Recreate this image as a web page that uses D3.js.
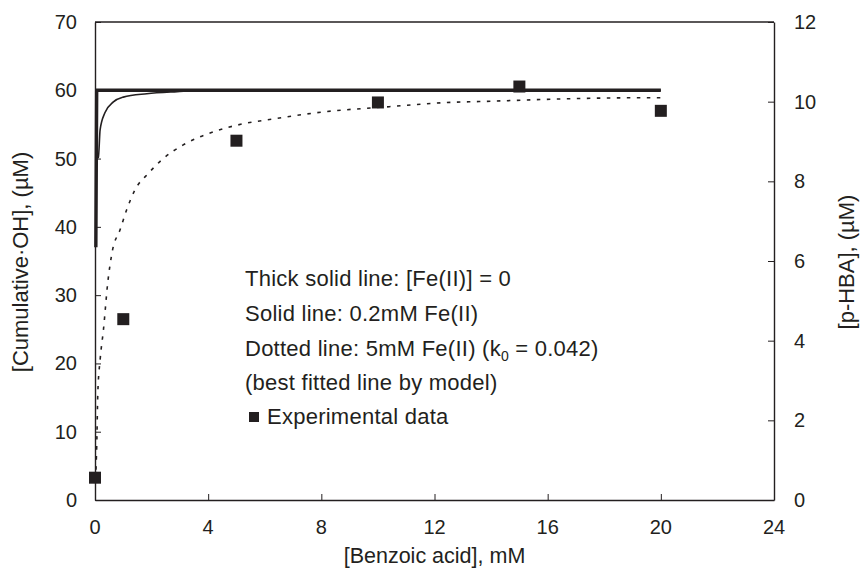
<!DOCTYPE html>
<html>
<head>
<meta charset="utf-8">
<script src="https://cdn.jsdelivr.net/npm/d3@7"></script>
<style>
  html, body { margin: 0; padding: 0; background: #fff; }
  svg { display: block; }
  text { font-family: "Liberation Sans", Arial, sans-serif; fill: #231f20; }
</style>
</head>
<body>
<svg id="chart" width="864" height="577"></svg>
<script>
// Benzoic acid concentration (mM) and modelled cumulative ·OH (µM)
const thickX = [0.03, 0.06, 20];
const thickY = [37, 60, 60];

const thinX = [0.05, 0.12, 0.18, 0.35, 0.65, 1.0, 1.83, 2.9, 4, 20];
const thinY = [50, 50.2, 54.2, 56.7, 58.3, 59.0, 59.5, 59.8, 60, 60];

const dotX = [0.02, 0.06, 0.1, 0.18, 0.3, 0.45, 0.62, 0.88, 1.12, 1.41, 1.88, 2.41, 3.12, 4.18, 5.24, 6.3, 8, 10.4, 12.4, 14, 16.2, 19, 20];
const dotY = [3, 7.8, 15.7, 20.5, 25, 31.8, 36.6, 39.5, 42.5, 45.4, 47.8, 50.0, 52.0, 53.9, 55.1, 55.8, 56.8, 57.6, 58.2, 58.4, 58.7, 58.9, 58.9];

// Experimental p-HBA (µM, right axis)
const expX = [0, 1, 5, 10, 15, 20];
const expY = [0.56, 4.54, 9.02, 9.98, 10.38, 9.77];

const xTicks = [0, 4, 8, 12, 16, 20, 24];
const yLeftTicks = [0, 10, 20, 30, 40, 50, 60, 70];
const yRightTicks = [0, 2, 4, 6, 8, 10, 12];

const legendLines = [
  "Thick solid line: [Fe(II)] = 0",
  "Solid line: 0.2mM Fe(II)",
  "Dotted line: 5mM Fe(II) (k|0| = 0.042)",
  "(best fitted line by model)"
];
const legendMarker = "Experimental data";

(function draw() {
  const ink = "#231f20";
  const svg = d3.select("#chart");

  const mLeft = 95, mRight = 774, mTop = 22, mBottom = 500;
  const x = d3.scaleLinear().domain([0, 24]).range([mLeft, mRight]);
  const yL = d3.scaleLinear().domain([0, 70]).range([mBottom, mTop]);
  const yR = d3.scaleLinear().domain([0, 12]).range([mBottom, mTop]);

  const fs = 20;

  // Frame and axes
  const axB = svg.append("g").attr("transform", `translate(0,${mBottom})`)
    .call(d3.axisBottom(x).tickValues(xTicks).tickSizeInner(-6).tickSizeOuter(0).tickFormat(""));
  const axL = svg.append("g").attr("transform", `translate(${mLeft},0)`)
    .call(d3.axisLeft(yL).tickValues(yLeftTicks).tickSizeInner(-6).tickSizeOuter(0).tickFormat(""));
  const axR = svg.append("g").attr("transform", `translate(${mRight},0)`)
    .call(d3.axisRight(yR).tickValues(yRightTicks).tickSizeInner(-6).tickSizeOuter(0).tickFormat(""));
  [axB, axL, axR].forEach(a => {
    a.select(".domain").attr("stroke", ink).attr("stroke-width", 1.4);
    a.selectAll(".tick line").attr("stroke", ink).attr("stroke-width", 1);
  });
  svg.append("line").attr("x1", mLeft).attr("x2", mRight).attr("y1", mTop).attr("y2", mTop)
    .attr("stroke", ink).attr("stroke-width", 1.4);

  // Tick labels
  svg.append("g").selectAll("text").data(xTicks).join("text")
    .attr("x", d => x(d)).attr("y", 534).attr("text-anchor", "middle")
    .attr("font-size", fs).text(d => d);
  svg.append("g").selectAll("text").data(yLeftTicks).join("text")
    .attr("x", 77).attr("y", d => yL(d)).attr("dy", "0.35em").attr("text-anchor", "end")
    .attr("font-size", fs).text(d => d);
  svg.append("g").selectAll("text").data(yRightTicks).join("text")
    .attr("x", 794).attr("y", d => yR(d)).attr("dy", "0.35em").attr("text-anchor", "start")
    .attr("font-size", fs).text(d => d);

  // Axis titles
  svg.append("text").attr("x", (mLeft + mRight) / 2).attr("y", 563).attr("text-anchor", "middle")
    .attr("font-size", 21.5).text("[Benzoic acid], mM");
  svg.append("text").attr("transform", "translate(28,262) rotate(-90)").attr("text-anchor", "middle")
    .attr("font-size", 22).text("[Cumulative·OH], (µM)");
  svg.append("text").attr("transform", "translate(854,262) rotate(-90)").attr("text-anchor", "middle")
    .attr("font-size", 22).text("[p-HBA], (µM)");

  // Model curves
  const lineL = d3.line().x(d => x(d[0])).y(d => yL(d[1])).curve(d3.curveMonotoneX);
  const zip = (a, b) => a.map((v, i) => [v, b[i]]);

  svg.append("path").datum(zip(dotX, dotY)).attr("d", lineL)
    .attr("fill", "none").attr("stroke", ink).attr("stroke-width", 1.6).attr("stroke-dasharray", "3.5,6.5");
  svg.append("path").datum(zip(thinX, thinY)).attr("d", lineL)
    .attr("fill", "none").attr("stroke", ink).attr("stroke-width", 1.6);
  svg.append("path").datum(zip(thickX, thickY)).attr("d", d3.line().x(d => x(d[0])).y(d => yL(d[1])))
    .attr("fill", "none").attr("stroke", ink).attr("stroke-width", 3.4).attr("stroke-linejoin", "miter");

  // Experimental points
  const sq = 12;
  svg.append("g").selectAll("rect").data(zip(expX, expY)).join("rect")
    .attr("x", d => x(d[0]) - sq / 2).attr("y", d => yR(d[1]) - sq / 2)
    .attr("width", sq).attr("height", sq).attr("fill", ink);

  // Legend text
  const lfs = 22;
  const lg = svg.append("g");
  const baselines = [285.5, 320.5, 355.5, 390];
  legendLines.forEach((s, i) => {
    const t = lg.append("text").attr("x", 245).attr("y", baselines[i])
      .attr("font-size", lfs).attr("letter-spacing", 0.25);
    s.split("|").forEach((part, j) => {
      const ts = t.append("tspan").text(part);
      if (j === 1) ts.attr("font-size", 14).attr("dy", 5);
      if (j === 2) ts.attr("dy", -5);
    });
  });
  lg.append("rect").attr("x", 249).attr("y", 412).attr("width", 10).attr("height", 10).attr("fill", ink);
  lg.append("text").attr("x", 267).attr("y", 423.5).attr("font-size", lfs).attr("letter-spacing", 0.25)
    .text(legendMarker);
})();
</script>
</body>
</html>
